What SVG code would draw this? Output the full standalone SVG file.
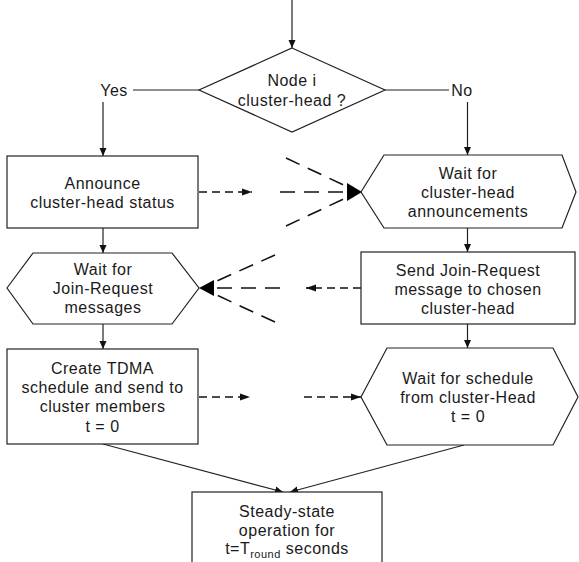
<svg xmlns="http://www.w3.org/2000/svg" width="579" height="562" viewBox="0 0 579 562">
<defs>
<style>
.shape{fill:#fff;stroke:#222;stroke-width:1.2}
.ln{fill:none;stroke:#222;stroke-width:1.2}
.ds{fill:none;stroke:#111;stroke-width:1.6;stroke-dasharray:8 5}
.dl{fill:none;stroke:#111;stroke-width:1.6;stroke-dasharray:15 9}
text{font-family:"Liberation Sans",Arial,sans-serif;font-size:16px;fill:#1a1a1a;text-anchor:middle;letter-spacing:0.5px}
.head{fill:#000;stroke:none}
</style>
<marker id="ah" viewBox="0 0 8 8" refX="8" refY="4" markerWidth="8" markerHeight="8" markerUnits="userSpaceOnUse" orient="auto">
<path d="M0,0.5 L8,4 L0,7.5 z" fill="#111"/>
</marker>
<marker id="ahd" viewBox="0 0 10 8" refX="10" refY="4" markerWidth="10" markerHeight="8" markerUnits="userSpaceOnUse" orient="auto">
<path d="M0,0.5 L10,4 L0,7.5 z" fill="#111"/>
</marker>
</defs>
<rect width="579" height="562" fill="#fff"/>

<g id="connectors">
<line class="ln" x1="292" y1="0" x2="292" y2="48" marker-end="url(#ah)"/>
<line class="ln" x1="133" y1="90" x2="199" y2="90"/>
<line class="ln" x1="385" y1="90" x2="449" y2="90"/>
<line class="ln" x1="103" y1="102" x2="103" y2="156" marker-end="url(#ah)"/>
<line class="ln" x1="467.5" y1="102" x2="467.5" y2="155" marker-end="url(#ah)"/>
<line class="ln" x1="103" y1="228" x2="103" y2="253" marker-end="url(#ah)"/>
<line class="ln" x1="467.5" y1="228" x2="467.5" y2="252" marker-end="url(#ah)"/>
<line class="ln" x1="103" y1="324" x2="103" y2="349" marker-end="url(#ah)"/>
<line class="ln" x1="467.5" y1="324" x2="467.5" y2="348" marker-end="url(#ah)"/>
<line class="ln" x1="103" y1="444" x2="283" y2="492" marker-end="url(#ah)"/>
<line class="ln" x1="464" y1="445" x2="290" y2="492" marker-end="url(#ah)"/>
<!-- row 1 -->
<line class="ds" x1="199" y1="192" x2="252" y2="192" marker-end="url(#ahd)"/>
<line class="dl" x1="286" y1="158" x2="350" y2="188"/>
<line class="dl" x1="280" y1="192" x2="350" y2="192"/>
<line class="dl" x1="286" y1="226" x2="350" y2="196"/>
<polygon class="head" points="362,192 347,183 347,201"/>
<!-- row 2 -->
<line class="ds" x1="361" y1="288" x2="306" y2="288" marker-end="url(#ahd)"/>
<line class="dl" x1="275" y1="255" x2="210" y2="284"/>
<line class="dl" x1="280" y1="288" x2="210" y2="288"/>
<line class="dl" x1="275" y1="322" x2="210" y2="292"/>
<polygon class="head" points="199,288 214,280 214,296"/>
<!-- row 3 -->
<line class="ds" x1="199" y1="397" x2="250" y2="397" marker-end="url(#ahd)"/>
<line class="ds" x1="304" y1="397" x2="361" y2="397" marker-end="url(#ahd)"/>
</g>

<g id="decision">
<polygon class="shape" points="292,48 385,90 292,132 199,90"/>
<text x="292" y="86">Node i</text>
<text x="292" y="106">cluster-head ?</text>
</g>
<g id="label-yes"><text x="114" y="96">Yes</text></g>
<g id="label-no"><text x="462" y="96">No</text></g>

<g id="announce">
<rect class="shape" x="7" y="156" width="191" height="72"/>
<text x="102.5" y="189">Announce</text>
<text x="102.5" y="208">cluster-head status</text>
</g>

<g id="wait-announcements">
<polygon class="shape" points="361,192 384,155 562,155 576,192 562,228 384,228"/>
<text x="468" y="179">Wait for</text>
<text x="468" y="198">cluster-head</text>
<text x="468" y="217">announcements</text>
</g>

<g id="wait-join">
<polygon class="shape" points="7,288 33,253 172,253 199,288 172,324 33,324"/>
<text x="103" y="275">Wait for</text>
<text x="103" y="294">Join-Request</text>
<text x="103" y="313">messages</text>
</g>

<g id="send-join">
<rect class="shape" x="361" y="252" width="214" height="72"/>
<text x="468" y="276">Send Join-Request</text>
<text x="468" y="295">message to chosen</text>
<text x="468" y="314">cluster-head</text>
</g>

<g id="create-tdma">
<rect class="shape" x="7" y="349" width="191" height="95"/>
<text x="102.5" y="374">Create TDMA</text>
<text x="102.5" y="393">schedule and send to</text>
<text x="102.5" y="412">cluster members</text>
<text x="102.5" y="432">t = 0</text>
</g>

<g id="wait-schedule">
<polygon class="shape" points="361,397 387,348 553,348 578,397 553,445 387,445"/>
<text x="468" y="384">Wait for schedule</text>
<text x="468" y="403">from cluster-Head</text>
<text x="468" y="422">t = 0</text>
</g>

<g id="steady-state">
<rect class="shape" x="192" y="492" width="190" height="80"/>
<text x="287" y="517">Steady-state</text>
<text x="287" y="536">operation for</text>
<text x="287" y="554">t=T<tspan font-size="11" dy="4">round</tspan><tspan dy="-4"> seconds</tspan></text>
</g>
</svg>
